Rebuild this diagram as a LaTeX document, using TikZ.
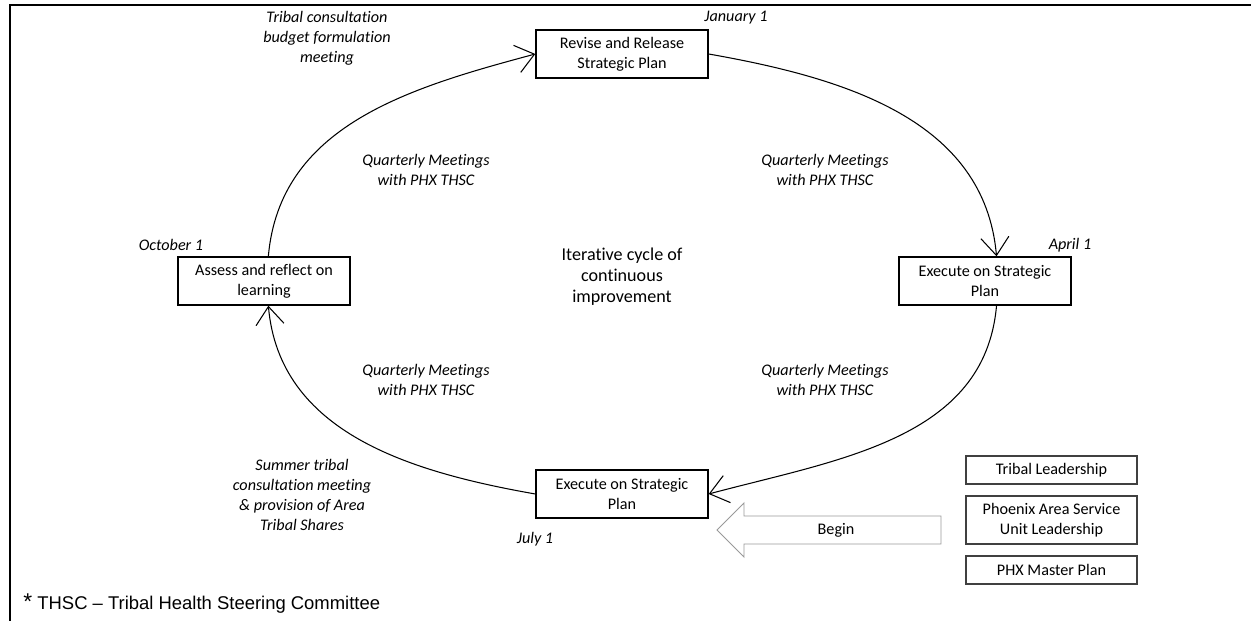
\documentclass[tikz,border=0pt]{standalone}
\usepackage{fontspec}
\setmainfont{Carlito}[Ligatures=NoCommon]
\newfontfamily\arialfont{Liberation Sans}
\usetikzlibrary{arrows.meta}
\newcommand\cyclesize{\fontsize{9.2}{11.3}\selectfont}
\begin{document}
\begin{tikzpicture}[x=0.02cm,y=-0.02cm,font=\cyclesize]
  \tikzstyle{stage box}=[draw,line width=0.8pt,align=center,inner sep=0,minimum width=3.44cm,minimum height=0.96cm]
  \tikzstyle{role box}=[draw=black!75,line width=1.1pt,align=center,inner sep=0,minimum width=3.42cm]
  \tikzstyle{date label}=[font=\cyclesize\itshape,inner sep=1pt]
  \tikzstyle{note label}=[font=\cyclesize\itshape,align=center,inner sep=1pt]
  \tikzstyle{cycle arrow}=[line width=0.6pt,-{Straight Barb[length=3.6mm,width=5.6mm]}]
  \useasboundingbox (0,0) rectangle (1251,621);
  \draw[line width=1.7pt] (10,621) -- (10,5) -- (1251,5);
  \node(rev)[stage box] at (622,54) {Revise and Release\\Strategic Plan};
  \node(execA)[stage box] at (985,281) {Execute on Strategic\\Plan};
  \node(execB)[stage box] at (622,494) {Execute on Strategic\\Plan};
  \node(assess)[stage box] at (264,281) {Assess and reflect on\\learning};
  \node(jan)[date label] at (736,18) {January 1};
  \node(apr)[date label] at (1070,245) {April 1};
  \node(jul)[date label] at (535,539) {July 1};
  \node(oct)[date label] at (171,245) {October 1};
  \node(qtl)[note label] at (426,170) {Quarterly Meetings\\with PHX THSC};
  \node(qtr)[note label] at (825,170) {Quarterly Meetings\\with PHX THSC};
  \node(qbl)[note label] at (426,380) {Quarterly Meetings\\with PHX THSC};
  \node(qbr)[note label] at (825,380) {Quarterly Meetings\\with PHX THSC};
  \node(budget)[note label] at (327,38) {Tribal consultation\\budget formulation\\meeting};
  \node(summer)[note label] at (302,495) {Summer tribal\\consultation meeting\\\& provision of Area\\Tribal Shares};
  \node(iter)[align=center,font=\fontsize{10.3}{12}\selectfont] at (622,277) {Iterative cycle of\\continuous\\improvement};
  \draw[cycle arrow] (assess.80) to[out=85,in=195] (rev.west);
  \draw[cycle arrow] (rev.east) to[out=-10,in=95] (execA.65);
  \draw[cycle arrow] (execA.-65) to[out=-95,in=15] (execB.east);
  \draw[cycle arrow] (execB.west) to[out=170,in=-85] (assess.-80);
  \node(begin) at (836,530) {Begin};
  \draw[black!40,line width=0.5pt] (717,530) -- (744,503) -- (744,516) -- (941,516) -- (941,544) -- (744,544) -- (744,557) -- cycle;
  \node(lead)[role box,minimum height=0.56cm] at (1051.5,470) {Tribal Leadership};
  \node(svc)[role box,minimum height=0.96cm] at (1051.5,520) {Phoenix Area Service\\Unit Leadership};
  \node(mplan)[role box,minimum height=0.56cm] at (1051.5,570) {PHX Master Plan};
  \node(thsc)[anchor=west,font=\arialfont\fontsize{10.5}{12}\selectfont,inner sep=0] at (23,604) {{\fontsize{13}{12}\selectfont *} THSC – Tribal Health Steering Committee};
\end{tikzpicture}
\end{document}
